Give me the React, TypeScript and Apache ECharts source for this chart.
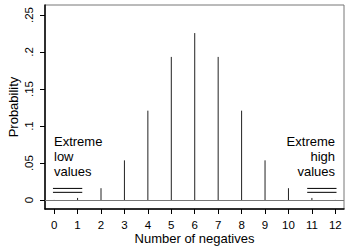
import React, { useEffect, useRef } from "react";
import * as echarts from "echarts";

const counts = [0, 1, 2, 3, 4, 5, 6, 7, 8, 9, 10, 11, 12];
const probs = [0.000244, 0.00293, 0.0161, 0.0537, 0.1208, 0.1934, 0.2256, 0.1934, 0.1208, 0.0537, 0.0161, 0.00293, 0.000244];
const yTicks = [0, 0.05, 0.1, 0.15, 0.2, 0.25];
const yTickLabels = ["0", ".05", ".1", ".15", ".2", ".25"];
const lowBracketX = [-0.05, 1.2];
const highBracketX = [10.8, 12.05];
const bracketY = [0.0158, 0.0105];

const FONT = "Liberation Sans, Arial, Helvetica, sans-serif";

export default function App() {
  const ref = useRef<HTMLDivElement>(null);
  useEffect(() => {
    if (!ref.current) return;
    const chart = echarts.init(ref.current, null, { renderer: "svg" });
    const bracketSeries: any[] = [];
    [lowBracketX, highBracketX].forEach((bx) => {
      bracketY.forEach((by) => {
        bracketSeries.push({
          type: "line",
          data: [[bx[0], by], [bx[1], by]],
          symbol: "none",
          lineStyle: { color: "#000", width: 1 },
          silent: true,
        });
      });
    });
    chart.setOption({
      animation: false,
      backgroundColor: "#fff",
      textStyle: { fontFamily: FONT },
      grid: {
        left: 45,
        right: 1,
        top: 5,
        bottom: 39,
        containLabel: false,
        outerBoundsMode: "none",
        show: true,
        borderColor: "#777",
        borderWidth: 1,
      },
      xAxis: {
        type: "value",
        min: -0.39,
        max: 12.37,
        name: "Number of negatives",
        nameLocation: "middle",
        nameGap: 23,
        nameMoveOverlap: false,
        nameTextStyle: { fontSize: 13, color: "#000", fontFamily: FONT },
        axisLine: { show: true, onZero: false, lineStyle: { color: "#000", width: 1.5 } },
        axisTick: {
          show: true,
          length: 5,
          lineStyle: { color: "#000" },
          customValues: counts,
        },
        axisLabel: {
          show: true,
          fontSize: 11.5,
          color: "#000",
          margin: 10,
          fontFamily: FONT,
          customValues: counts,
          formatter: (v: number) => String(Math.round(v)),
        },
        splitLine: { show: false },
      },
      yAxis: {
        type: "value",
        min: -0.012,
        max: 0.2635,
        name: "Probability",
        nameLocation: "middle",
        nameGap: 25,
        nameMoveOverlap: false,
        nameTextStyle: { fontSize: 13, color: "#000", fontFamily: FONT },
        axisLine: { show: true, onZero: false, lineStyle: { color: "#000", width: 1.5 } },
        axisTick: {
          show: true,
          length: 5,
          lineStyle: { color: "#000" },
          customValues: yTicks,
        },
        axisLabel: {
          show: true,
          fontSize: 11.5,
          color: "#000",
          rotate: 90,
          margin: 10,
          fontFamily: FONT,
          customValues: yTicks,
          formatter: (v: number) => {
            const i = yTicks.findIndex((t) => Math.abs(t - v) < 1e-6);
            return i >= 0 ? yTickLabels[i] : "";
          },
        },
        splitLine: { show: false },
      },
      series: [
        {
          type: "custom",
          silent: true,
          data: counts.map((c, i) => [c, probs[i]]),
          renderItem: (params: any, api: any) => {
            const x = api.value(0);
            const y = api.value(1);
            const p0 = api.coord([x, 0]);
            const p1 = api.coord([x, y]);
            return {
              type: "line",
              shape: { x1: p0[0], y1: p0[1], x2: p1[0], y2: p1[1] },
              style: { stroke: "#222", lineWidth: 1 },
            };
          },
          markLine: {
            silent: true,
            symbol: "none",
            label: { show: false },
            lineStyle: { color: "#777", width: 1, type: "solid" },
            data: [{ yAxis: 0 }],
          },
          z: 3,
        },
        ...bracketSeries,
      ],
      graphic: [
        {
          type: "text",
          x: 54,
          y: 134,
          style: {
            text: "Extreme\nlow\nvalues",
            font: `13px ${FONT}`,
            fill: "#000",
            lineHeight: 15,
            align: "left",
            verticalAlign: "top",
          },
        },
        {
          type: "text",
          x: 335,
          y: 134,
          style: {
            text: "Extreme\nhigh\nvalues",
            font: `13px ${FONT}`,
            fill: "#000",
            lineHeight: 15,
            align: "right",
            verticalAlign: "top",
          },
        },
      ],
    });
    return () => chart.dispose();
  }, []);
  return <div ref={ref} style={{ width: 345, height: 248, position: "absolute", left: 0, top: 0 }} />;
}
